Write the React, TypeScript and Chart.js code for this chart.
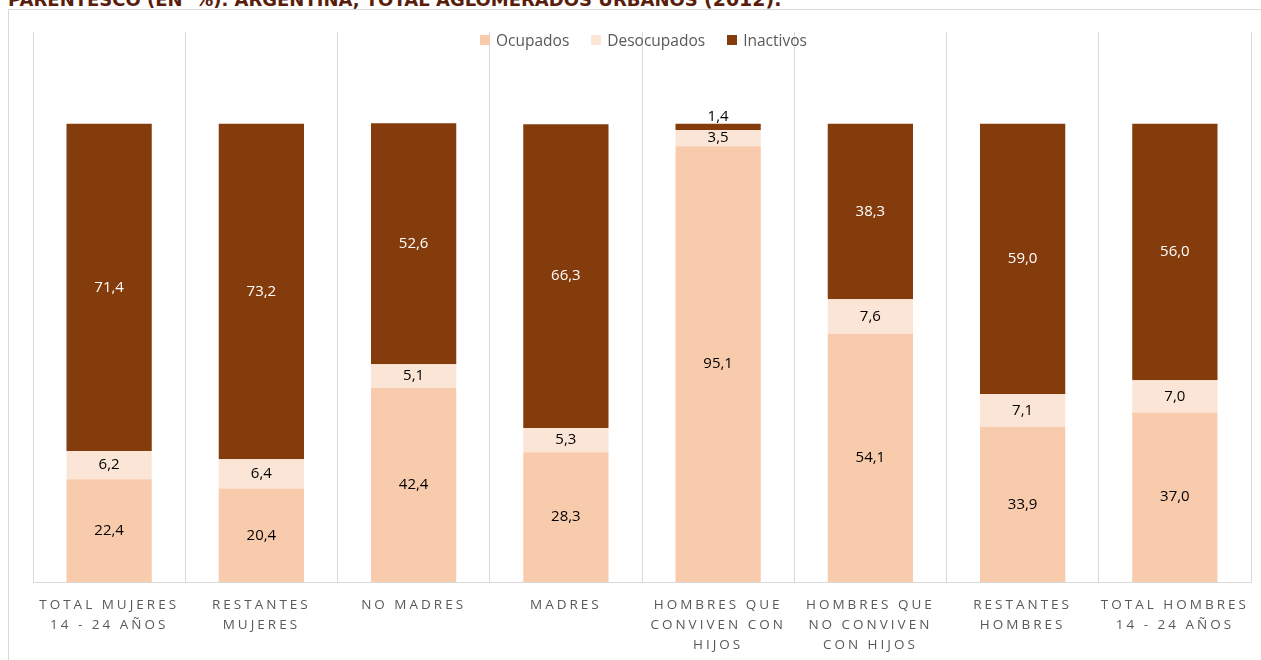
import React, { useEffect, useRef } from 'react';
import { Chart, registerables } from 'chart.js';

Chart.register(...registerables);

const categories: string[][] = [
  ['TOTAL MUJERES', '14 - 24 AÑOS'],
  ['RESTANTES', 'MUJERES'],
  ['NO MADRES'],
  ['MADRES'],
  ['HOMBRES QUE', 'CONVIVEN CON', 'HIJOS'],
  ['HOMBRES QUE', 'NO CONVIVEN', 'CON HIJOS'],
  ['RESTANTES', 'HOMBRES'],
  ['TOTAL HOMBRES', '14 - 24 AÑOS'],
];

const ocupados = [22.4, 20.4, 42.4, 28.3, 95.1, 54.1, 33.9, 37.0];
const desocupados = [6.2, 6.4, 5.1, 5.3, 3.5, 7.6, 7.1, 7.0];
const inactivos = [71.4, 73.2, 52.6, 66.3, 1.4, 38.3, 59.0, 56.0];

const seriesNames = ['Ocupados', 'Desocupados', 'Inactivos'];
const seriesColors = ['#F8CBAD', '#FBE5D6', '#843C0C'];
const labelColors = ['#000000', '#000000', '#FFFFFF'];

const TITLE_MAIN = 'PARENTESCO (EN  %). ARGENTINA, TOTAL AGLOMERADOS URBANOS ';
const TITLE_YEAR = '(2012).';

const fmt = (v: number) => v.toFixed(1).replace('.', ',');

const segLabels = {
  id: 'segLabels',
  afterDatasetsDraw(chart: any) {
    const ctx = chart.ctx;
    ctx.save();
    ctx.font = '15px "Open Sans"';
    ctx.textAlign = 'center';
    ctx.textBaseline = 'middle';
    chart.data.datasets.forEach((ds: any, di: number) => {
      const meta = chart.getDatasetMeta(di);
      meta.data.forEach((bar: any, i: number) => {
        const p = bar.getProps(['x', 'y', 'base'], true);
        const top = Math.min(p.y, p.base);
        const h = Math.abs(p.base - p.y);
        let cy = (p.y + p.base) / 2;
        let color = labelColors[di];
        if (h < 12) {
          cy = top - 7;
          color = '#000000';
        }
        ctx.fillStyle = color;
        ctx.fillText(fmt(ds.data[i]), p.x, cy);
      });
    });
    ctx.restore();
  },
};

const spacedTicks = {
  id: 'spacedTicks',
  afterLayout(chart: any) {
    const s = chart.scales.x;
    if (s && !s.__spaced) {
      const orig = s.drawLabels.bind(s);
      s.drawLabels = (ca: any) => {
        const c = chart.ctx;
        c.save();
        c.letterSpacing = '3px';
        orig(ca);
        c.restore();
      };
      s.__spaced = true;
    }
  },
};

export default function App() {
  const ref = useRef<HTMLCanvasElement | null>(null);

  useEffect(() => {
    if (!ref.current) return;
    const chart = new Chart(ref.current, {
      type: 'bar',
      data: {
        labels: categories,
        datasets: [ocupados, desocupados, inactivos].map((d, i) => ({
          label: seriesNames[i],
          data: d,
          backgroundColor: seriesColors[i],
          borderWidth: 0,
          barPercentage: 0.56,
          categoryPercentage: 1,
        })),
      },
      options: {
        animation: false,
        responsive: true,
        maintainAspectRatio: false,
        layout: { padding: { left: 24, right: 10, top: 22, bottom: 0 } },
        plugins: {
          legend: { display: false },
          tooltip: { enabled: false },
          title: { display: false },
        },
        scales: {
          x: {
            stacked: true,
            offset: true,
            grid: {
              display: true,
              offset: true,
              color: '#D9D9D9',
              lineWidth: 1,
              drawTicks: false,
            },
            border: { display: true, color: '#D9D9D9', width: 1 },
            ticks: {
              color: '#595959',
              font: { family: '"Open Sans"', size: 13.5, lineHeight: '20px' },
              padding: 13,
              maxRotation: 0,
              autoSkip: false,
            },
            afterFit: (scale: any) => {
              scale.height = 78;
            },
          },
          y: {
            stacked: true,
            display: false,
            min: 0,
            max: 120,
          },
        },
      },
      plugins: [segLabels, spacedTicks],
    });
    return () => chart.destroy();
  }, []);

  return (
    <div style={{ position: 'fixed', inset: 0, overflow: 'hidden', background: '#fff' }}>
      <div
        style={{
          position: 'absolute',
          left: 8,
          top: 9,
          width: 1400,
          height: 800,
          border: '1px solid #D9D9D9',
          boxSizing: 'border-box',
        }}
      />
      <div
        style={{
          position: 'absolute',
          left: 8,
          top: -10,
          display: 'flex',
          alignItems: 'baseline',
          whiteSpace: 'pre',
          color: '#5A1D0C',
          fontFamily: '"DejaVu Sans"',
          fontWeight: 'bold',
          lineHeight: 1,
        }}
      >
        <span style={{ fontSize: 18 }}>{TITLE_MAIN}</span>
        <span style={{ fontSize: 19 }}>{TITLE_YEAR}</span>
      </div>
      <div style={{ position: 'absolute', left: 9, top: 10, width: 1252, height: 650 }}>
        <canvas ref={ref} />
      </div>
      <div
        style={{
          position: 'absolute',
          left: 480,
          top: 30,
          display: 'flex',
          alignItems: 'center',
          height: 20,
          fontFamily: '"Open Sans"',
          fontSize: 15.5,
          color: '#595959',
          whiteSpace: 'nowrap',
        }}
      >
        {seriesNames.map((n, i) => (
          <div key={n} style={{ display: 'flex', alignItems: 'center', marginRight: 22 }}>
            <span
              style={{
                display: 'inline-block',
                width: 10,
                height: 10,
                background: seriesColors[i],
                marginRight: 6,
              }}
            />
            <span>{n}</span>
          </div>
        ))}
      </div>
    </div>
  );
}
